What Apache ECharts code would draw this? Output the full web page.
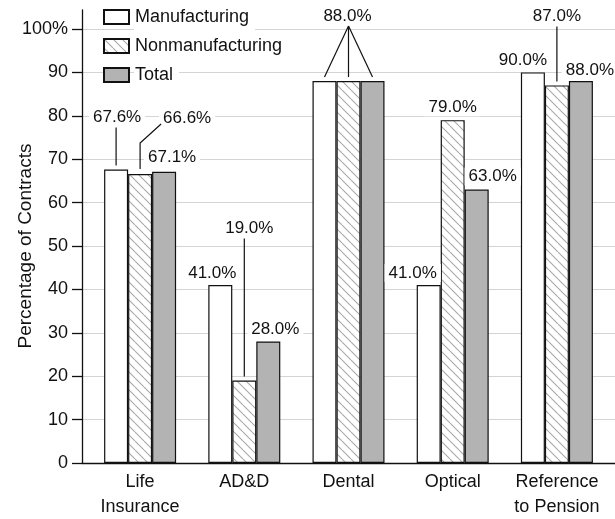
<!DOCTYPE html>
<html>
<head>
<meta charset="utf-8">
<script src="https://cdn.jsdelivr.net/npm/echarts@6/dist/echarts.min.js"></script>
<style>
html,body{margin:0;padding:0;background:#fff;}
#chart{width:615px;height:519px;}
</style>
</head>
<body>
<div id="chart"></div>
<script>
// ---- data ----
const categories = ['Life\nInsurance', 'AD&D', 'Dental', 'Optical', 'Reference\nto Pension'];
const seriesNames = ['Manufacturing', 'Nonmanufacturing', 'Total'];
const manufacturing = [67.6, 41.0, 88.0, 41.0, 90.0];
const nonmanufacturing = [66.6, 19.0, 88.0, 79.0, 87.0];
const total = [67.1, 28.0, 88.0, 63.0, 88.0];
const yTicks = [0, 10, 20, 30, 40, 50, 60, 70, 80, 90, 100];

// ---- label layout (pixel offsets from default "top" label position; null = hidden) ----
const labelOffsets = [
  [[1, -38], [-8, 2], null, [-16, 2], [-10, 2]],
  [[47, -42], [5, -138], [-1, -51], [0, 1], [0, -55]],
  [[8, 0], [7, 2], null, [16, 1], [9, 3]]
];
// leader lines: which bar they point at
const leaders = [
  {cat: 0, s: 0, kind: 'v'},
  {cat: 0, s: 1, kind: 'bent'},
  {cat: 1, s: 1, kind: 'v'},
  {cat: 2, s: 1, kind: 'fan'},
  {cat: 4, s: 1, kind: 'v'}
];

const allSeries = [manufacturing, nonmanufacturing, total];
const BAR_W = 24;
const LABEL_LIFT = 14;

// hatch pattern
function makeHatch() {
  const size = 9;
  const c = document.createElement('canvas');
  c.width = size; c.height = size;
  const ctx = c.getContext('2d');
  ctx.fillStyle = '#ffffff';
  ctx.fillRect(0, 0, size, size);
  ctx.strokeStyle = '#a8a8a8';
  ctx.lineWidth = 1.1;
  [-size, 0, size].forEach(k => {
    ctx.beginPath();
    ctx.moveTo(k, 0);
    ctx.lineTo(k + size, size);
    ctx.stroke();
  });
  return c;
}
const hatch = makeHatch();
const fills = ['#ffffff', {image: hatch, repeat: 'repeat'}, '#b3b3b3'];

const FONT = '"Liberation Sans", Arial, Helvetica, sans-serif';

const chart = echarts.init(document.getElementById('chart'), null, {renderer: 'canvas'});

const barSeries = allSeries.map((vals, s) => ({
  type: 'bar',
  name: seriesNames[s],
  xAxisIndex: 1,
  yAxisIndex: 1,
  barWidth: BAR_W,
  barGap: '0%',
  itemStyle: {color: fills[s], borderColor: '#111', borderWidth: 1.2},
  label: {
    show: true,
    position: 'top',
    distance: 5,
    fontFamily: FONT,
    fontSize: 17,
    lineHeight: 16,
    color: '#111',
    backgroundColor: '#fff',
    padding: [1, 4],
    formatter: p => p.value.toFixed(1) + '%'
  },
  emphasis: {disabled: true},
  data: vals.map((v, i) => {
    const off = labelOffsets[s][i];
    return off ? {value: v, label: {offset: off}} : {value: v, label: {show: false}};
  }),
  z: 3
}));

const leaderSeries = {
  type: 'custom',
  xAxisIndex: 1,
  yAxisIndex: 1,
  silent: true,
  z: 4,
  clip: false,
  encode: {x: 0, y: 1},
  data: leaders.map(l => [l.cat, allSeries[l.s][l.cat]]),
  renderItem: function (params, api) {
    const l = leaders[params.dataIndex];
    const barPos = (s) => {
      const p = api.coord([l.cat, allSeries[s][l.cat]]);
      return [p[0] + (s - 1) * BAR_W, p[1]];
    };
    const [bx, by] = barPos(l.s);
    const off = labelOffsets[l.s][l.cat];
    const lx = bx + off[0];
    const ly = by - LABEL_LIFT + off[1];
    const style = {stroke: '#111', lineWidth: 1.2, fill: null};
    let children = [];
    if (l.kind === 'v') {
      children.push({type: 'line', shape: {x1: bx, y1: ly + 10, x2: bx, y2: by - 4}, style});
    } else if (l.kind === 'bent') {
      children.push({type: 'polyline', shape: {points: [[lx - 26, ly + 6], [bx, by - 31], [bx, by - 5]]}, style});
    } else if (l.kind === 'fan') {
      [0, 1, 2].forEach(s => {
        const [tx, ty] = barPos(s);
        children.push({type: 'line', shape: {x1: lx + 1, y1: ly + 10, x2: tx, y2: ty - 4}, style});
      });
    }
    return {type: 'group', children};
  }
};

const option = {
  backgroundColor: '#fff',
  animation: false,
  textStyle: {fontFamily: FONT},
  grid: [
    {left: 82, right: 0, top: 10, bottom: 56, outerBoundsMode: 'none', containLabel: false},
    {left: 88, right: 6, top: 29, bottom: 56, outerBoundsMode: 'none', containLabel: false}
  ],
  legend: {
    orient: 'vertical',
    left: 103,
    top: 3,
    padding: 0,
    itemWidth: 25,
    itemHeight: 14,
    itemGap: 1,
    icon: 'rect',
    selectedMode: false,
    data: seriesNames,
    textStyle: {
      fontFamily: FONT,
      fontSize: 18,
      lineHeight: 22,
      color: '#111',
      backgroundColor: '#fff',
      padding: [3, 6, 3, 1]
    }
  },
  xAxis: [
    {
      gridIndex: 0, type: 'value', min: 0, max: 1,
      axisLine: {show: true, lineStyle: {color: '#111', width: 1.3}},
      axisTick: {show: false}, axisLabel: {show: false}, splitLine: {show: false}
    },
    {
      gridIndex: 1, type: 'category', data: categories,
      axisLine: {show: false}, axisTick: {show: false},
      axisLabel: {fontFamily: FONT, fontSize: 18, lineHeight: 25, color: '#111', margin: 7, interval: 0}
    }
  ],
  yAxis: [
    {
      gridIndex: 0, type: 'value', min: 0, max: 104.4, interval: 10,
      axisLine: {show: true, lineStyle: {color: '#111', width: 1.3}},
      axisTick: {show: false}, axisLabel: {show: false},
      splitLine: {show: true, showMinLine: false, showMaxLine: false, lineStyle: {color: '#d4d4d4', width: 1.2}}
    },
    {
      gridIndex: 1, type: 'value', min: yTicks[0], max: yTicks[yTicks.length - 1], interval: 10,
      offset: 6,
      axisLine: {show: false},
      axisTick: {show: true, length: 10, lineStyle: {color: '#111', width: 1.3}},
      axisLabel: {
        fontFamily: FONT, fontSize: 18, color: '#111', margin: 14,
        formatter: v => (v === 100 ? '100%' : String(v))
      },
      splitLine: {show: false},
      name: 'Percentage of Contracts',
      nameLocation: 'middle',
      nameGap: 47,
      nameMoveOverlap: false,
      nameTextStyle: {fontFamily: FONT, fontSize: 19, color: '#111'}
    }
  ],
  series: [...barSeries, leaderSeries]
};

chart.setOption(option);
</script>
</body>
</html>
